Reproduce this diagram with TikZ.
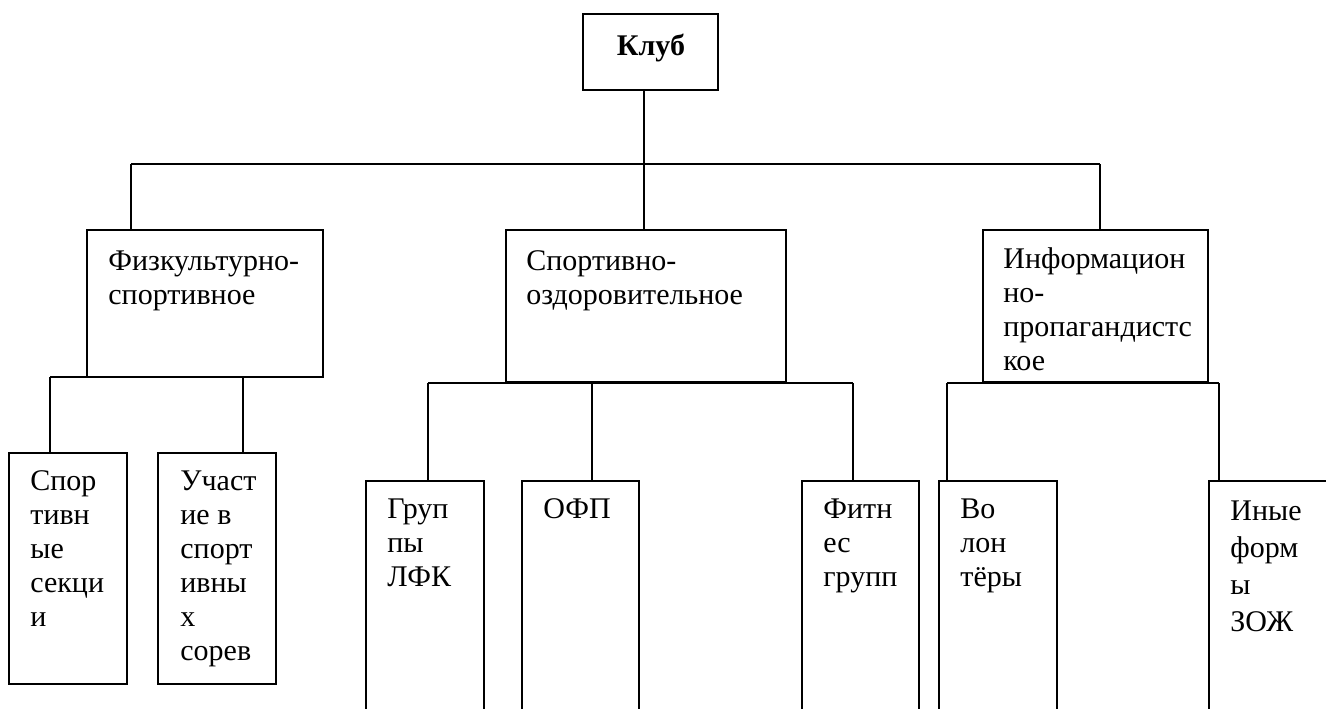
\documentclass[tikz,border=0pt]{standalone}
\usepackage{fontspec}
\setmainfont{Liberation Serif}
\usetikzlibrary{fit}
\newcommand{\ml}[1]{\begin{tabular}[t]{@{}l@{}}#1\end{tabular}}
\begin{document}
\begin{tikzpicture}[x=0.5pt,y=-0.5pt,
  box/.style={draw, line width=0.9pt, inner sep=0pt},
  conn/.style={line width=0.9pt},
  lbl/.style={anchor=base west, inner sep=0pt, font=\fontsize{15}{17}\selectfont},
  lblw/.style={anchor=base west, inner sep=0pt, font=\fontsize{15}{18.5}\selectfont}]
\useasboundingbox (0,0) rectangle (1326,708);
\clip (0,0) rectangle (1326,708);
% top
\node[box, fit={(583,14) (718,90)}] (klub) {};
\node[anchor=base, inner sep=0pt, font=\fontsize{15}{17}\selectfont\bfseries] (klubT) at (651,55) {Клуб};
% level 2
\node[box, fit={(87,230) (323,377)}] (fiz) {};
\node[box, fit={(506,230) (786,382)}] (sport) {};
\node[box, fit={(983,230) (1208,382)}] (info) {};
\node[lbl] (fizT) at (108,270) {\ml{Физкультурно-\\спортивное}};
\node[lbl] (sportT) at (526,270) {\ml{Спортивно-\\оздоровительное}};
\node[lbl] (infoT) at (1003,268) {\ml{Информацион\\но-\\пропагандистс\\кое}};
% level 3
\node[box, fit={(9,453) (127,684)}] (sec) {};
\node[box, fit={(158,453) (276,684)}] (uch) {};
\node[box, fit={(366,481) (484,760)}] (lfk) {};
\node[box, fit={(522,481) (639,760)}] (ofp) {};
\node[box, fit={(802,481) (919,760)}] (fitn) {};
\node[box, fit={(939,481) (1057,760)}] (vol) {};
\node[box, fit={(1209,481) (1420,760)}] (inye) {};
\node[lbl] (secT) at (30,490) {\ml{Спор\\тивн\\ые\\секци\\и}};
\node[lbl] (uchT) at (180,490) {\ml{Участ\\ие в\\спорт\\ивны\\х\\сорев}};
\node[lbl] (lfkT) at (387,518) {\ml{Груп\\пы\\ЛФК}};
\node[lbl] (ofpT) at (543,518) {ОФП};
\node[lbl] (fitT) at (823,518) {\ml{Фитн\\ес\\групп}};
\node[lbl] (volT) at (960,518) {\ml{Во\\лон\\тёры}};
\node[lblw] (inyeT) at (1230,520) {\ml{Иные\\форм\\ы\\ЗОЖ}};
% main bus
\coordinate (busL) at (131,164);
\coordinate (mid) at (644,164);
\coordinate (busR) at (1100,164);
\draw[conn] (mid |- klub.south) -- (mid);
\draw[conn] (busL) -- (busR);
\draw[conn] (busL) -- (busL |- fiz.north);
\draw[conn] (mid) -- (mid |- sport.north);
\draw[conn] (busR) -- (busR |- info.north);
% sub bus 1
\coordinate (f1) at (50,377);
\coordinate (f2) at (243,377);
\draw[conn] (f1) -- (f2);
\draw[conn] (f1) -- (f1 |- sec.north);
\draw[conn] (f2) -- (f2 |- uch.north);
% sub bus 2
\coordinate (s1) at (428,383);
\coordinate (s2) at (592,383);
\coordinate (s3) at (853,383);
\draw[conn] (s1) -- (s3);
\draw[conn] (s1) -- (s1 |- lfk.north);
\draw[conn] (s2) -- (s2 |- ofp.north);
\draw[conn] (s3) -- (s3 |- fitn.north);
% sub bus 3
\coordinate (i1) at (947,383);
\coordinate (i2) at (1219,383);
\draw[conn] (i1) -- (i2);
\draw[conn] (i1) -- (i1 |- vol.north);
\draw[conn] (i2) -- (i2 |- inye.north);
\end{tikzpicture}
\end{document}
